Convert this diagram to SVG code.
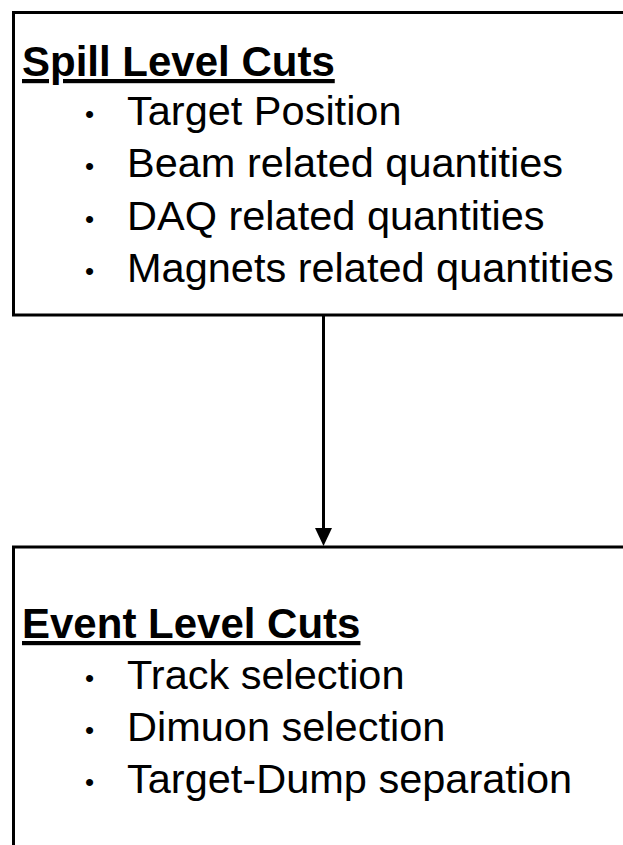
<svg xmlns="http://www.w3.org/2000/svg" width="623" height="845" viewBox="0 0 623 845">
<style>
.box{fill:#fff;stroke:#000;stroke-width:3}
.h{font-family:"Liberation Sans",Arial,sans-serif;font-weight:bold;font-size:42px;fill:#000;text-decoration:underline}
.t{font-family:"Liberation Sans",Arial,sans-serif;font-size:41.5px;fill:#000}
.b{font-family:"Liberation Sans",Arial,sans-serif;font-size:26px;fill:#000}
</style>
<rect width="623" height="845" fill="#fff"/>
<g id="spill">
<rect class="box" x="13.5" y="12.5" width="640" height="302.5"/>
<text class="h" x="22" y="76">Spill Level Cuts</text>
<text class="b" x="85" y="123">•</text><text class="t" x="127" y="125">Target Position</text>
<text class="b" x="85" y="175">•</text><text class="t" x="127" y="177">Beam related quantities</text>
<text class="b" x="85" y="228">•</text><text class="t" x="127" y="230">DAQ related quantities</text>
<text class="b" x="85" y="280">•</text><text class="t" x="127" y="282">Magnets related quantities</text>
</g>
<g id="event">
<rect class="box" x="13.5" y="547" width="640" height="320"/>
<text class="h" x="22" y="638">Event Level Cuts</text>
<text class="b" x="85" y="687">•</text><text class="t" x="127" y="689">Track selection</text>
<text class="b" x="85" y="739">•</text><text class="t" x="127" y="741">Dimuon selection</text>
<text class="b" x="85" y="791">•</text><text class="t" x="127" y="793">Target-Dump separation</text>
</g>
<g id="connectors">
<line x1="323.5" y1="315" x2="323.5" y2="530" stroke="#000" stroke-width="3"/>
<polygon points="315,528 332,528 323.5,546" fill="#000"/>
</g>
</svg>
